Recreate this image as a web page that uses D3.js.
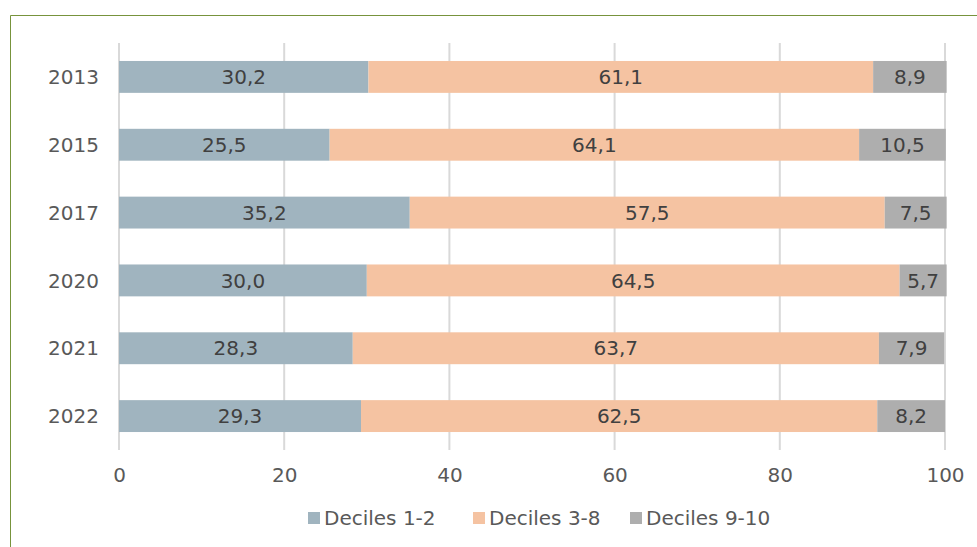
<!DOCTYPE html>
<html><head><meta charset="utf-8">
<script src="https://cdn.jsdelivr.net/npm/d3@7"></script>
<style>html,body{margin:0;padding:0;background:#fff;}</style>
</head><body>
<svg id="chart" width="977" height="547"></svg>
<script>
const years = ["2013","2015","2017","2020","2021","2022"];
const seriesNames = ["Deciles 1-2","Deciles 3-8","Deciles 9-10"];
const deciles12 = [30.2,25.5,35.2,30.0,28.3,29.3];
const deciles38 = [61.1,64.1,57.5,64.5,63.7,62.5];
const deciles910 = [8.9,10.5,7.5,5.7,7.9,8.2];
const xTicks = [0,20,40,60,80,100];
const colors = ["#A0B4BF","#F5C3A2","#AEAEAE"];

const svg = d3.select("#chart");
const font = "'DejaVu Sans', Verdana, sans-serif";
const fs = 20;
// frame
svg.append("line").attr("x1",10.5).attr("x2",977).attr("y1",15.5).attr("y2",15.5).attr("stroke","#77933C").attr("stroke-width",1);
svg.append("line").attr("x1",10.5).attr("x2",10.5).attr("y1",15.5).attr("y2",547).attr("stroke","#77933C").attr("stroke-width",1);

const x = d3.scaleLinear().domain([0,100]).range([119,945]);
const y = d3.scaleBand().domain(years).range([43,450]).paddingInner(0.53).paddingOuter(0.265);

// gridlines
svg.append("g").selectAll("line").data(xTicks).join("line")
  .attr("x1",d=>x(d)).attr("x2",d=>x(d)).attr("y1",43).attr("y2",450)
  .attr("stroke","#D9D9D9").attr("stroke-width",2);

const data = years.map((yr,i)=>({year:yr, v:[deciles12[i],deciles38[i],deciles910[i]]}));
const rows = svg.append("g").selectAll("g").data(data).join("g");
rows.each(function(d){
  let acc = 0;
  const g = d3.select(this);
  d.v.forEach((val,k)=>{
    const x0 = x(acc), x1 = x(acc+val);
    g.append("rect").attr("x",x0).attr("y",y(d.year)).attr("width",x1-x0).attr("height",y.bandwidth()).attr("fill",colors[k]);
    g.append("text").attr("x",(x0+x1)/2).attr("y",y(d.year)+y.bandwidth()/2).attr("dy","0.36em")
      .attr("text-anchor","middle").attr("font-family",font).attr("font-size",fs).attr("fill","#404040")
      .text(d3.format(".1f")(val).replace(".",","));
    acc += val;
  });
});

// y labels
svg.append("g").selectAll("text").data(years).join("text")
  .attr("x",99).attr("y",d=>y(d)+y.bandwidth()/2).attr("dy","0.36em").attr("text-anchor","end")
  .attr("font-family",font).attr("font-size",fs).attr("fill","#595959").text(d=>d);

// x axis labels
const xAxis = d3.axisBottom(x).tickValues(xTicks).tickSize(0).tickPadding(0);
const ax = svg.append("g").attr("transform","translate(0,468)").call(xAxis);
ax.select(".domain").remove();
ax.selectAll("text").attr("font-family",font).attr("font-size",fs).attr("fill","#595959").attr("dy","0.71em");

// legend
const legX = [308,473,630];
const leg = svg.append("g").selectAll("g").data(seriesNames).join("g").attr("transform",(d,i)=>`translate(${legX[i]},0)`);
leg.append("rect").attr("x",0).attr("y",512).attr("width",12).attr("height",12).attr("fill",(d,i)=>colors[i]);
leg.append("text").attr("x",16).attr("y",518).attr("dy","0.36em").attr("font-family",font).attr("font-size",fs).attr("fill","#595959").text(d=>d);
</script>
</body></html>
